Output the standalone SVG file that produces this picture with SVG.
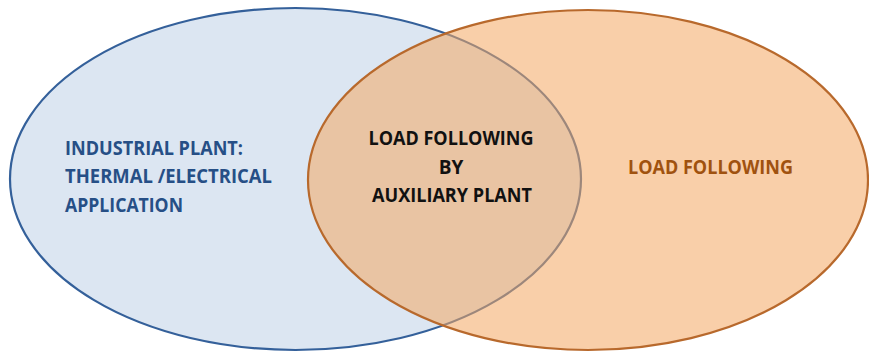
<svg xmlns="http://www.w3.org/2000/svg" width="869" height="352" viewBox="0 0 869 352">
<style>
text{font-family:"Open Sans","Liberation Sans",sans-serif;font-weight:bold;font-size:19px}
.l{fill:#264f86}
.c{fill:#111111;text-anchor:middle}
.r{fill:#a0520f}
</style>
<rect width="869" height="352" fill="#ffffff"/>
<g id="industrial-plant">
<ellipse cx="295.5" cy="179" rx="285.5" ry="171" fill="#dce6f2" stroke="#34609a" stroke-width="2.2"/>
<text class="l" x="65" y="154.5" textLength="178" lengthAdjust="spacingAndGlyphs">INDUSTRIAL PLANT:</text>
<text class="l" x="65" y="183.3" textLength="207" lengthAdjust="spacingAndGlyphs">THERMAL /ELECTRICAL</text>
<text class="l" x="65" y="211.8" textLength="118" lengthAdjust="spacingAndGlyphs">APPLICATION</text>
</g>
<g id="load-following">
<ellipse cx="588" cy="180" rx="280" ry="170" fill="#f4a862" fill-opacity="0.55" stroke="#b8692c" stroke-width="2.2"/>
<text class="r" x="628" y="173.5" textLength="165" lengthAdjust="spacingAndGlyphs">LOAD FOLLOWING</text>
</g>
<g id="intersection">
<text class="c" x="451" y="145" textLength="165" lengthAdjust="spacingAndGlyphs">LOAD FOLLOWING</text>
<text class="c" x="451" y="173.5">BY</text>
<text class="c" x="452" y="201.8" textLength="160" lengthAdjust="spacingAndGlyphs">AUXILIARY PLANT</text>
</g>
<g id="connectors"/>
</svg>
